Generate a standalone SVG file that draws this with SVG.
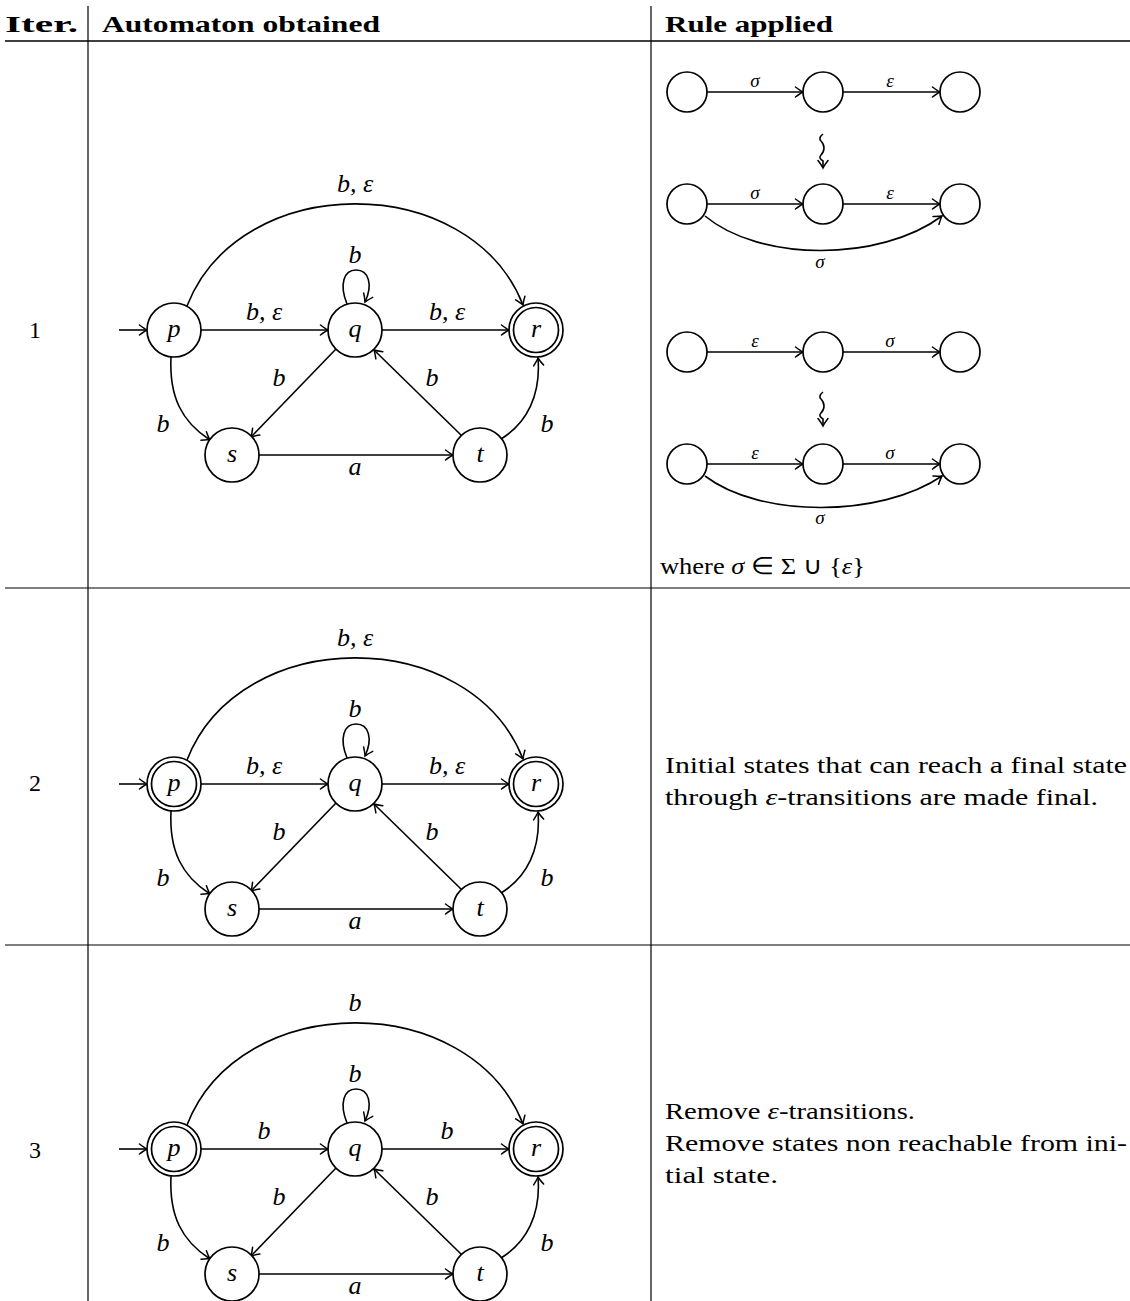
<svg xmlns="http://www.w3.org/2000/svg" width="1130" height="1301" viewBox="0 0 1130 1301">
<defs>
<style>
.bg{fill:#fff}
.st{fill:#fff;stroke:#000;stroke-width:1.7}
.e{fill:none;stroke:#000;stroke-width:1.6}
.tl{stroke:#000;stroke-width:1.2}
.hd{font-family:"Liberation Serif",serif;font-weight:bold;font-size:23px}
.tx{font-family:"Liberation Serif",serif;font-size:24px}
.m{font-family:"Liberation Serif",serif;font-style:italic;font-size:26px;text-anchor:middle}
.ms{font-family:"Liberation Serif",serif;font-style:italic;font-size:19px;text-anchor:middle}
</style>
<marker id="ar" viewBox="-9 -6 11 12" markerWidth="11" markerHeight="12" refX="0" refY="0" orient="auto" markerUnits="userSpaceOnUse">
<path d="M-7.5,-5 Q-2.5,-1.2 0,0 Q-2.5,1.2 -7.5,5" fill="none" stroke="#000" stroke-width="1.5" stroke-linecap="round"/>
</marker>
</defs>
<rect class="bg" x="0" y="0" width="1130" height="1301"/>

<g id="table">
<line class="tl" x1="88" y1="6" x2="88" y2="1301"/>
<line class="tl" x1="651" y1="6" x2="651" y2="1301"/>
<line x1="5" y1="41" x2="1130" y2="41" stroke="#000" stroke-width="1.6"/>
<line class="tl" x1="5" y1="588" x2="1130" y2="588"/>
<line class="tl" x1="5" y1="945" x2="1130" y2="945"/>
<text class="hd" x="5" y="32" textLength="73" lengthAdjust="spacingAndGlyphs">Iter.</text>
<text class="hd" x="102" y="32" textLength="278" lengthAdjust="spacingAndGlyphs">Automaton obtained</text>
<text class="hd" x="665" y="32" textLength="168" lengthAdjust="spacingAndGlyphs">Rule applied</text>
<text class="tx" x="29" y="338">1</text>
<text class="tx" x="29" y="791">2</text>
<text class="tx" x="29" y="1158">3</text>
<text class="tx" x="665" y="773" textLength="462" lengthAdjust="spacingAndGlyphs">Initial states that can reach a final state</text>
<text class="tx" x="665" y="805" textLength="433" lengthAdjust="spacingAndGlyphs">through <tspan font-style="italic">ε</tspan>-transitions are made final.</text>
<text class="tx" x="665" y="1119" textLength="250" lengthAdjust="spacingAndGlyphs">Remove <tspan font-style="italic">ε</tspan>-transitions.</text>
<text class="tx" x="665" y="1151" textLength="462" lengthAdjust="spacingAndGlyphs">Remove states non reachable from ini-</text>
<text class="tx" x="665" y="1183" textLength="113" lengthAdjust="spacingAndGlyphs">tial state.</text>
<text class="tx" x="660" y="574" textLength="205" lengthAdjust="spacingAndGlyphs">where <tspan font-style="italic">σ</tspan> ∈ Σ ∪ {<tspan font-style="italic">ε</tspan>}</text>
</g>

<!-- Row 1 automaton -->
<g id="row1-connectors">
<path class="e" marker-end="url(#ar)" d="M119,330 L147,330"/>
<path class="e" marker-end="url(#ar)" d="M201,330 L328,330"/>
<path class="e" marker-end="url(#ar)" d="M382,330 L509,330"/>
<path class="e" marker-end="url(#ar)" d="M347,304 C339,284 344,270 356,270 C369,270 373,285 365,302"/>
<path class="e" marker-end="url(#ar)" d="M336,349 L251,437"/>
<path class="e" marker-end="url(#ar)" d="M462,436 L374,350"/>
<path class="e" marker-end="url(#ar)" d="M259,455 L453,455"/>
<path class="e" marker-end="url(#ar)" d="M171,357 C169,397 182,422 210,440"/>
<path class="e" marker-end="url(#ar)" d="M501,439 C527,423 541,395 538,358"/>
<path class="e" marker-end="url(#ar)" d="M187,306 C240,170 470,170 523,305"/>
<text class="m" x="355" y="192">b, ε</text>
<text class="m" x="355" y="263">b</text>
<text class="m" x="264" y="320">b, ε</text>
<text class="m" x="447" y="320">b, ε</text>
<text class="m" x="279" y="386">b</text>
<text class="m" x="432" y="386">b</text>
<text class="m" x="163" y="432">b</text>
<text class="m" x="547" y="432">b</text>
<text class="m" x="355" y="475">a</text>
</g>
<g id="p1"><circle class="st" cx="174" cy="330" r="27"/><text class="m" x="174" y="337">p</text></g>
<g id="q1"><circle class="st" cx="355" cy="330" r="27"/><text class="m" x="355" y="337">q</text></g>
<g id="r1"><circle class="st" cx="536" cy="330" r="27"/><circle class="st" cx="536" cy="330" r="22.5"/><text class="m" x="536" y="337">r</text></g>
<g id="s1"><circle class="st" cx="232" cy="455" r="27"/><text class="m" x="232" y="462">s</text></g>
<g id="t1"><circle class="st" cx="480" cy="455" r="27"/><text class="m" x="480" y="462">t</text></g>

<!-- Row 2 automaton -->
<g transform="translate(0,454)">
<g id="row2-connectors">
<path class="e" marker-end="url(#ar)" d="M119,330 L147,330"/>
<path class="e" marker-end="url(#ar)" d="M201,330 L328,330"/>
<path class="e" marker-end="url(#ar)" d="M382,330 L509,330"/>
<path class="e" marker-end="url(#ar)" d="M347,304 C339,284 344,270 356,270 C369,270 373,285 365,302"/>
<path class="e" marker-end="url(#ar)" d="M336,349 L251,437"/>
<path class="e" marker-end="url(#ar)" d="M462,436 L374,350"/>
<path class="e" marker-end="url(#ar)" d="M259,455 L453,455"/>
<path class="e" marker-end="url(#ar)" d="M171,357 C169,397 182,422 210,440"/>
<path class="e" marker-end="url(#ar)" d="M501,439 C527,423 541,395 538,358"/>
<path class="e" marker-end="url(#ar)" d="M187,306 C240,170 470,170 523,305"/>
<text class="m" x="355" y="192">b, ε</text>
<text class="m" x="355" y="263">b</text>
<text class="m" x="264" y="320">b, ε</text>
<text class="m" x="447" y="320">b, ε</text>
<text class="m" x="279" y="386">b</text>
<text class="m" x="432" y="386">b</text>
<text class="m" x="163" y="432">b</text>
<text class="m" x="547" y="432">b</text>
<text class="m" x="355" y="475">a</text>
</g>
<g id="p2"><circle class="st" cx="174" cy="330" r="27"/><circle class="st" cx="174" cy="330" r="22.5"/><text class="m" x="174" y="337">p</text></g>
<g id="q2"><circle class="st" cx="355" cy="330" r="27"/><text class="m" x="355" y="337">q</text></g>
<g id="r2"><circle class="st" cx="536" cy="330" r="27"/><circle class="st" cx="536" cy="330" r="22.5"/><text class="m" x="536" y="337">r</text></g>
<g id="s2"><circle class="st" cx="232" cy="455" r="27"/><text class="m" x="232" y="462">s</text></g>
<g id="t2"><circle class="st" cx="480" cy="455" r="27"/><text class="m" x="480" y="462">t</text></g>
</g>

<!-- Row 3 automaton -->
<g transform="translate(0,819)">
<g id="row3-connectors">
<path class="e" marker-end="url(#ar)" d="M119,330 L147,330"/>
<path class="e" marker-end="url(#ar)" d="M201,330 L328,330"/>
<path class="e" marker-end="url(#ar)" d="M382,330 L509,330"/>
<path class="e" marker-end="url(#ar)" d="M347,304 C339,284 344,270 356,270 C369,270 373,285 365,302"/>
<path class="e" marker-end="url(#ar)" d="M336,349 L251,437"/>
<path class="e" marker-end="url(#ar)" d="M462,436 L374,350"/>
<path class="e" marker-end="url(#ar)" d="M259,455 L453,455"/>
<path class="e" marker-end="url(#ar)" d="M171,357 C169,397 182,422 210,440"/>
<path class="e" marker-end="url(#ar)" d="M501,439 C527,423 541,395 538,358"/>
<path class="e" marker-end="url(#ar)" d="M187,306 C240,170 470,170 523,305"/>
<text class="m" x="355" y="192">b</text>
<text class="m" x="355" y="263">b</text>
<text class="m" x="264" y="320">b</text>
<text class="m" x="447" y="320">b</text>
<text class="m" x="279" y="386">b</text>
<text class="m" x="432" y="386">b</text>
<text class="m" x="163" y="432">b</text>
<text class="m" x="547" y="432">b</text>
<text class="m" x="355" y="475">a</text>
</g>
<g id="p3"><circle class="st" cx="174" cy="330" r="27"/><circle class="st" cx="174" cy="330" r="22.5"/><text class="m" x="174" y="337">p</text></g>
<g id="q3"><circle class="st" cx="355" cy="330" r="27"/><text class="m" x="355" y="337">q</text></g>
<g id="r3"><circle class="st" cx="536" cy="330" r="27"/><circle class="st" cx="536" cy="330" r="22.5"/><text class="m" x="536" y="337">r</text></g>
<g id="s3"><circle class="st" cx="232" cy="455" r="27"/><text class="m" x="232" y="462">s</text></g>
<g id="t3"><circle class="st" cx="480" cy="455" r="27"/><text class="m" x="480" y="462">t</text></g>
</g>

<!-- Rule diagrams -->
<g id="rule-connectors">
<path class="e" marker-end="url(#ar)" d="M707,92 L803,92"/>
<path class="e" marker-end="url(#ar)" d="M843,92 L940,92"/>
<path class="e" marker-end="url(#ar)" d="M823,134 Q818,138 821,141 T824,148 T821,155 T823,161 L823,168"/>
<path class="e" marker-end="url(#ar)" d="M707,204 L803,204"/>
<path class="e" marker-end="url(#ar)" d="M843,204 L940,204"/>
<path class="e" marker-end="url(#ar)" d="M705,216 C760,262 880,262 942,216"/>
<text class="ms" x="755" y="87">σ</text>
<text class="ms" x="890" y="87">ε</text>
<text class="ms" x="755" y="199">σ</text>
<text class="ms" x="890" y="199">ε</text>
<text class="ms" x="820" y="268">σ</text>
<path class="e" marker-end="url(#ar)" d="M707,352 L803,352"/>
<path class="e" marker-end="url(#ar)" d="M843,352 L940,352"/>
<path class="e" marker-end="url(#ar)" d="M823,392 Q818,396 821,399 T824,406 T821,413 T823,419 L823,426"/>
<path class="e" marker-end="url(#ar)" d="M707,464 L803,464"/>
<path class="e" marker-end="url(#ar)" d="M843,464 L940,464"/>
<path class="e" marker-end="url(#ar)" d="M705,476 C760,518 880,518 942,476"/>
<text class="ms" x="755" y="347">ε</text>
<text class="ms" x="890" y="347">σ</text>
<text class="ms" x="755" y="459">ε</text>
<text class="ms" x="890" y="459">σ</text>
<text class="ms" x="820" y="524">σ</text>
</g>
<g id="ra1"><circle class="st" cx="687" cy="92" r="20"/></g>
<g id="ra2"><circle class="st" cx="823" cy="92" r="20"/></g>
<g id="ra3"><circle class="st" cx="960" cy="92" r="20"/></g>
<g id="rb1"><circle class="st" cx="687" cy="204" r="20"/></g>
<g id="rb2"><circle class="st" cx="823" cy="204" r="20"/></g>
<g id="rb3"><circle class="st" cx="960" cy="204" r="20"/></g>
<g id="rc1"><circle class="st" cx="687" cy="352" r="20"/></g>
<g id="rc2"><circle class="st" cx="823" cy="352" r="20"/></g>
<g id="rc3"><circle class="st" cx="960" cy="352" r="20"/></g>
<g id="rd1"><circle class="st" cx="687" cy="464" r="20"/></g>
<g id="rd2"><circle class="st" cx="823" cy="464" r="20"/></g>
<g id="rd3"><circle class="st" cx="960" cy="464" r="20"/></g>
</svg>
